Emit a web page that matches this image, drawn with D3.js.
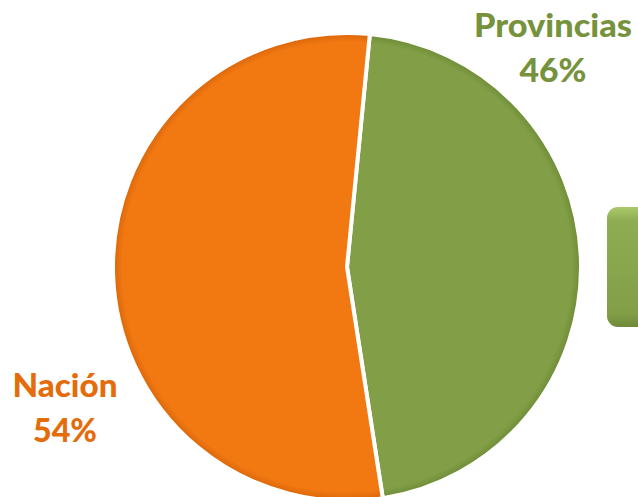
<!DOCTYPE html>
<html>
<head>
<meta charset="utf-8">
<script src="https://cdn.jsdelivr.net/npm/d3@7"></script>
<style>
  html, body { margin: 0; padding: 0; background: #fff; }
  svg { display: block; }
</style>
</head>
<body>
<svg id="chart" width="638" height="497"></svg>
<script>
// Share of the total by level of government
const categories = ["Provincias", "Nación"];
const values = [46, 54];
const pctLabels = ["46%", "54%"];

const fills = ["#829F47", "#F27912"];
const rims = ["#6C8A35", "#D9650A"];
const textColors = ["#76923C", "#E46C0A"];

const W = 638, H = 497;
const cx = 347, cy = 267, R = 234;
const startDeg = 5.6;

const svg = d3.select("#chart");
const defs = svg.append("defs");

// Slight darkening toward the rim of each slice (coordinates relative to the pie centre)
fills.forEach((c, i) => {
  const g = defs.append("radialGradient")
    .attr("id", "sliceGrad" + i)
    .attr("gradientUnits", "userSpaceOnUse")
    .attr("cx", 0).attr("cy", 0).attr("r", R);
  g.append("stop").attr("offset", "0%").attr("stop-color", c);
  g.append("stop").attr("offset", "96%").attr("stop-color", c);
  g.append("stop").attr("offset", "100%").attr("stop-color", rims[i]);
});

const boxGrad = defs.append("linearGradient")
  .attr("id", "boxGrad").attr("x1", 0).attr("y1", 0).attr("x2", 0).attr("y2", 1);
boxGrad.append("stop").attr("offset", "0%").attr("stop-color", "#A9C86A");
boxGrad.append("stop").attr("offset", "12%").attr("stop-color", "#8EAD52");
boxGrad.append("stop").attr("offset", "88%").attr("stop-color", "#829F47");
boxGrad.append("stop").attr("offset", "100%").attr("stop-color", "#6E8A3A");

const pie = d3.pie()
  .sort(null)
  .value(d => d)
  .startAngle(startDeg * Math.PI / 180)
  .endAngle(startDeg * Math.PI / 180 + 2 * Math.PI);

const arc = d3.arc().innerRadius(0).outerRadius(R);

const arcs = pie(values);

svg.append("g")
  .attr("transform", `translate(${cx},${cy})`)
  .selectAll("path")
  .data(arcs)
  .join("path")
  .attr("d", arc)
  .attr("fill", (d, i) => `url(#sliceGrad${i})`)
  .attr("stroke", "#fff")
  .attr("stroke-width", 4)
  .attr("stroke-linejoin", "round");

// Rounded box partly outside the right edge
svg.append("rect")
  .attr("x", 607).attr("y", 207)
  .attr("width", 60).attr("height", 120)
  .attr("rx", 11).attr("ry", 11)
  .attr("fill", "url(#boxGrad)");

// Category labels with percentages
const labelPos = [
  { x: 553, y1: 37, y2: 82 },
  { x: 65, y1: 397, y2: 442 }
];
const nameWidths = [158, 105];
const pctWidths = [67, 64];

const labels = svg.append("g")
  .attr("font-family", "Lato, 'Open Sans', sans-serif")
  .attr("font-weight", 900)
  .attr("font-size", 32)
  .attr("text-anchor", "middle");

categories.forEach((name, i) => {
  const p = labelPos[i];
  labels.append("text")
    .attr("x", p.x).attr("y", p.y1)
    .attr("fill", textColors[i])
    .attr("textLength", nameWidths[i])
    .attr("lengthAdjust", "spacingAndGlyphs")
    .text(name);
  labels.append("text")
    .attr("x", p.x).attr("y", p.y2)
    .attr("fill", textColors[i])
    .attr("textLength", pctWidths[i])
    .attr("lengthAdjust", "spacingAndGlyphs")
    .text(pctLabels[i]);
});
</script>
</body>
</html>
